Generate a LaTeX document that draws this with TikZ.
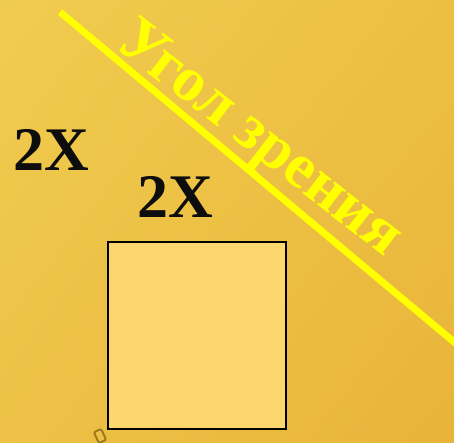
\documentclass[tikz,border=0pt]{standalone}
\usepackage{fontspec}
\setmainfont{Liberation Serif}
\usetikzlibrary{shadings}
\definecolor{bgUL}{HTML}{F0CC4E}
\definecolor{bgUR}{HTML}{ECBF42}
\definecolor{bgLL}{HTML}{EDC246}
\definecolor{bgLR}{HTML}{E8B43A}
\definecolor{boxfill}{HTML}{FDD66E}
\definecolor{rayyellow}{HTML}{FFFF00}
\definecolor{markbrown}{HTML}{9C7A1E}
\tikzset{
  bigtext/.style={inner sep=0pt, anchor=base west, font=\fontsize{62}{62}\selectfont\bfseries},
  labeltext/.style={bigtext, text=black!95},
  raytext/.style={bigtext, text=rayyellow},
}
\begin{document}
\begin{tikzpicture}[x=1pt,y=-1pt]
\useasboundingbox (0,0) rectangle (454,442);
\shade[upper left=bgUL, upper right=bgUR, lower left=bgLL, lower right=bgLR] (0,0) rectangle (454,442);
\begin{scope}
\clip (0,0) rectangle (454,442);
\coordinate (rayA) at (60,12);
\coordinate (rayB) at (460,347);
\draw[rayyellow, line width=7pt] (rayA) -- (rayB);
\node[raytext, rotate=-37.8, font=\fontsize{63}{63}\selectfont\bfseries] (ray) at (113,46) {Угол зрения};
\node[labeltext] (x1) at (13,170) {2X};
\node[labeltext] (x2) at (137,217) {2X};
\node[draw=black, line width=2.2pt, fill=boxfill, minimum width=178pt, minimum height=187pt, inner sep=0pt, anchor=north west] (sq) at (107,241) {};
\node[draw=markbrown, line width=2pt, rounded corners=2pt, minimum width=8pt, minimum height=12pt, inner sep=0pt, rotate=25] (mk) at (100,436) {};
\end{scope}
\end{tikzpicture}
\end{document}
